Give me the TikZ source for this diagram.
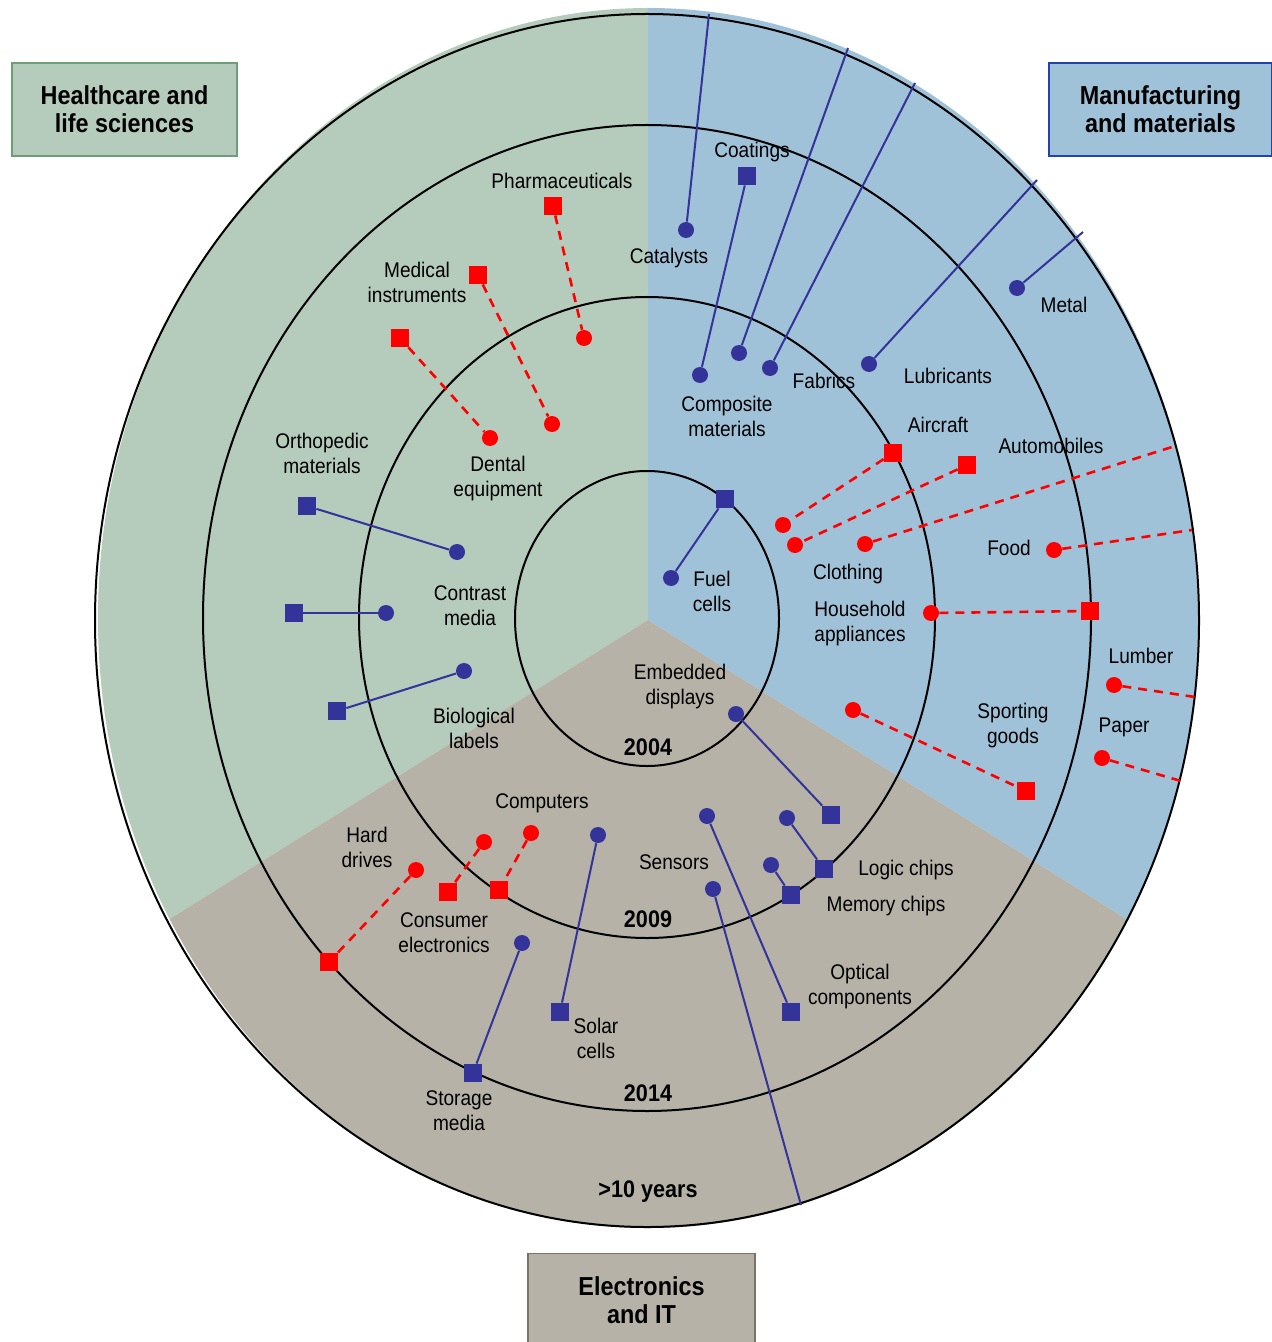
\documentclass[tikz,border=0pt]{standalone}
\usepackage{fontspec}
\setmainfont{Liberation Sans}[FakeStretch=0.9]
\definecolor{hgreen}{HTML}{B5CBBB}
\definecolor{mblue}{HTML}{A0C2D8}
\definecolor{egray}{HTML}{B6B2A7}
\definecolor{navy}{HTML}{333399}
\definecolor{gborder}{HTML}{6E9E78}
\definecolor{bborder}{HTML}{2244AA}
\definecolor{tborder}{HTML}{7A7262}
\definecolor{mred}{HTML}{FF0000}
\newcommand\lblfont{\fontsize{10.6}{12.5}\selectfont}
\newcommand\yrfont{\fontsize{12}{14}\selectfont\bfseries}
\newcommand\catfont{\fontsize{13}{14}\selectfont\bfseries}
\begin{document}
\begin{tikzpicture}[x=0.5pt,y=-0.5pt,
  ring/.style={draw=black, line width=1pt},
  sq/.style={rectangle, minimum size=9pt, inner sep=0pt},
  dot/.style={circle, minimum size=8pt, inner sep=0pt},
  bsq/.style={sq, fill=navy},
  bdot/.style={dot, fill=navy},
  rsq/.style={sq, fill=mred},
  rdot/.style={dot, fill=mred},
  bline/.style={draw=navy, line width=1pt},
  rline/.style={draw=mred, line width=1.3pt, dash pattern=on 4.5pt off 3.5pt},
  lbl/.style={font=\lblfont, align=center, inner sep=0pt, text=black},
  yr/.style={font=\yrfont, inner sep=0pt},
  catbox/.style={line width=0.8pt, minimum width=112.5pt, minimum height=46.5pt, font=\catfont, align=center, inner sep=0pt}
]
\useasboundingbox (0,0) rectangle (1272,1342);
% sectors
\begin{scope}
  \clip (648.5,618) ellipse [x radius=275.25pt, y radius=305pt];
  \fill[hgreen] (648,620) -- (648,-50) -- (-50,-50) -- (-50,1056.25) -- cycle;
  \fill[mblue] (648,620) -- (648,-50) -- (1350,-50) -- (1350,1058.75) -- cycle;
  \fill[egray] (648,620) -- (-50,1056.25) -- (-50,1400) -- (1350,1400) -- (1350,1058.75) -- cycle;
\end{scope}
% rings
\draw[ring] (647,618.5) ellipse [x radius=66pt, y radius=73.75pt];
\draw[ring] (647,617.5) ellipse [x radius=144pt, y radius=160.25pt];
\draw[ring] (647,618) ellipse [x radius=222pt, y radius=246.5pt];
\draw[ring] (647,620.5) ellipse [x radius=276pt, y radius=303.25pt];
% category boxes
\node[catbox, draw=gborder, fill=hgreen] (hc) at (124.5,109.5) {Healthcare and\\life sciences};
\node[catbox, draw=bborder, fill=mblue, minimum width=111.5pt] (mm) at (1160.5,109.5) {Manufacturing\\and materials};
\node[catbox, draw=tborder, fill=egray, minimum width=113.5pt] (el) at (641.5,1300) {Electronics\\and IT};
% years
\node[yr] (y04) at (648,747) {2004};
\node[yr] (y09) at (648,919) {2009};
\node[yr] (y14) at (648,1093) {2014};
\node[yr] (y10) at (648,1192) {>10 years};
% ---------- Healthcare ----------
\node[rsq] (pharS) at (553,206) {};
\node[rdot] (pharC) at (584,338) {};
\draw[rline] (pharS) -- (pharC);
\node[rsq] (medS) at (478,275) {};
\node[rdot] (medC) at (552,424) {};
\draw[rline] (medS) -- (medC);
\node[rsq] (denS) at (400,338) {};
\node[rdot] (denC) at (490,438) {};
\draw[rline] (denS) -- (denC);
\node[bsq] (ortS) at (307,506) {};
\node[bdot] (ortC) at (457,552) {};
\draw[bline] (ortS) -- (ortC);
\node[bsq] (conS) at (294,613) {};
\node[bdot] (conC) at (386,613) {};
\draw[bline] (conS) -- (conC);
\node[bsq] (bioS) at (337,711) {};
\node[bdot] (bioC) at (464,671) {};
\draw[bline] (bioS) -- (bioC);
% ---------- Manufacturing ----------
\node[bdot] (catC) at (686,230) {};
\coordinate (catE) at (709,14);
\draw[bline] (catC) -- (catE);
\node[bsq] (coaS) at (747,176) {};
\node[bdot] (coaC) at (700,375) {};
\draw[bline] (coaS) -- (coaC);
\node[bdot] (m1C) at (739,353) {};
\coordinate (m1E) at (848,48);
\draw[bline] (m1C) -- (m1E);
\node[bdot] (m2C) at (770,368) {};
\coordinate (m2E) at (915,83);
\draw[bline] (m2C) -- (m2E);
\node[bdot] (lubC) at (869,364) {};
\coordinate (lubE) at (1037,180);
\draw[bline] (lubC) -- (lubE);
\node[bdot] (metC) at (1017,288) {};
\coordinate (metE) at (1083,232);
\draw[bline] (metC) -- (metE);
\node[bsq] (fuelS) at (725,499) {};
\node[bdot] (fuelC) at (671,578) {};
\draw[bline] (fuelS) -- (fuelC);
\node[rsq] (airS) at (893,453) {};
\node[rdot] (airC) at (783,525) {};
\draw[rline] (airS) -- (airC);
\node[rsq] (autS) at (967,465) {};
\node[rdot] (autC) at (795,545) {};
\draw[rline] (autS) -- (autC);
\node[rdot] (m3C) at (865,544) {};
\coordinate (m3E) at (1172,447);
\draw[rline] (m3C) -- (m3E);
\node[rdot] (fooC) at (1054,550) {};
\coordinate (fooE) at (1192,530);
\draw[rline] (fooC) -- (fooE);
\node[rdot] (houC) at (931,613) {};
\node[rsq] (houS) at (1090,611) {};
\draw[rline] (houC) -- (houS);
\node[rdot] (lumC) at (1114,685) {};
\coordinate (lumE) at (1195,697);
\draw[rline] (lumC) -- (lumE);
\node[rdot] (papC) at (1102,758) {};
\coordinate (papE) at (1181,781);
\draw[rline] (papC) -- (papE);
\node[rdot] (spoC) at (853,710) {};
\node[rsq] (spoS) at (1026,791) {};
\draw[rline] (spoC) -- (spoS);
% ---------- Electronics ----------
\node[bdot] (embC) at (736,714) {};
\node[bsq] (embS) at (831,815) {};
\draw[bline] (embC) -- (embS);
\node[bdot] (logC) at (787,818) {};
\node[bsq] (logS) at (824,869) {};
\draw[bline] (logC) -- (logS);
\node[bdot] (memC) at (771,865) {};
\node[bsq] (memS) at (791,895) {};
\draw[bline] (memC) -- (memS);
\node[bdot] (optC) at (707,816) {};
\node[bsq] (optS) at (791,1012) {};
\draw[bline] (optC) -- (optS);
\node[bdot] (senC) at (713,889) {};
\coordinate (senE) at (801,1205);
\draw[bline] (senC) -- (senE);
\node[bdot] (solC) at (598,835) {};
\node[bsq] (solS) at (560,1012) {};
\draw[bline] (solC) -- (solS);
\node[bdot] (stoC) at (522,943) {};
\node[bsq] (stoS) at (473,1073) {};
\draw[bline] (stoC) -- (stoS);
\node[rdot] (hdC) at (416,870) {};
\node[rsq] (hdS) at (329,962) {};
\draw[rline] (hdC) -- (hdS);
\node[rdot] (ceC) at (484,842) {};
\node[rsq] (ceS) at (448,892) {};
\draw[rline] (ceC) -- (ceS);
\node[rdot] (cpC) at (531,833) {};
\node[rsq] (cpS) at (499,890) {};
\draw[rline] (cpC) -- (cpS);
% ---------- labels ----------
\node[lbl] (lPhar) at (562,181) {Pharmaceuticals};
\node[lbl] (lMed) at (417,282) {Medical\\instruments};
\node[lbl] (lDen) at (498,479) {Dental\\equipment};
\node[lbl] (lOrt) at (322,453) {Orthopedic\\materials};
\node[lbl] (lCon) at (470,606) {Contrast\\media};
\node[lbl] (lBio) at (474,728) {Biological\\labels};
\node[lbl] (lCoa) at (752,152) {Coatings};
\node[lbl] (lCat) at (669,258) {Catalysts};
\node[lbl] (lCom) at (727,416) {Composite\\materials};
\node[lbl] (lFab) at (824,381) {Fabrics};
\node[lbl] (lLub) at (948,376) {Lubricants};
\node[lbl] (lMet) at (1064,305) {Metal};
\node[lbl] (lAir) at (938,425) {Aircraft};
\node[lbl] (lAut) at (1051,446) {Automobiles};
\node[lbl] (lFoo) at (1009,548) {Food};
\node[lbl] (lClo) at (848,574) {Clothing};
\node[lbl] (lHou) at (860,624) {Household\\appliances};
\node[lbl] (lLum) at (1141,656) {Lumber};
\node[lbl] (lPap) at (1124,727) {Paper};
\node[lbl] (lSpo) at (1013,726) {Sporting\\goods};
\node[lbl] (lFue) at (712,591) {Fuel\\cells};
\node[lbl] (lEmb) at (680,687) {Embedded\\displays};
\node[lbl] (lLog) at (906,870) {Logic chips};
\node[lbl] (lMem) at (886,906) {Memory chips};
\node[lbl] (lOpt) at (860,987) {Optical\\components};
\node[lbl] (lSen) at (674,862) {Sensors};
\node[lbl] (lSol) at (596,1038) {Solar\\cells};
\node[lbl] (lSto) at (459,1111) {Storage\\media};
\node[lbl] (lHd) at (367,847) {Hard\\drives};
\node[lbl] (lCe) at (444,933) {Consumer\\electronics};
\node[lbl] (lCp) at (542,803) {Computers};
\end{tikzpicture}
\end{document}
